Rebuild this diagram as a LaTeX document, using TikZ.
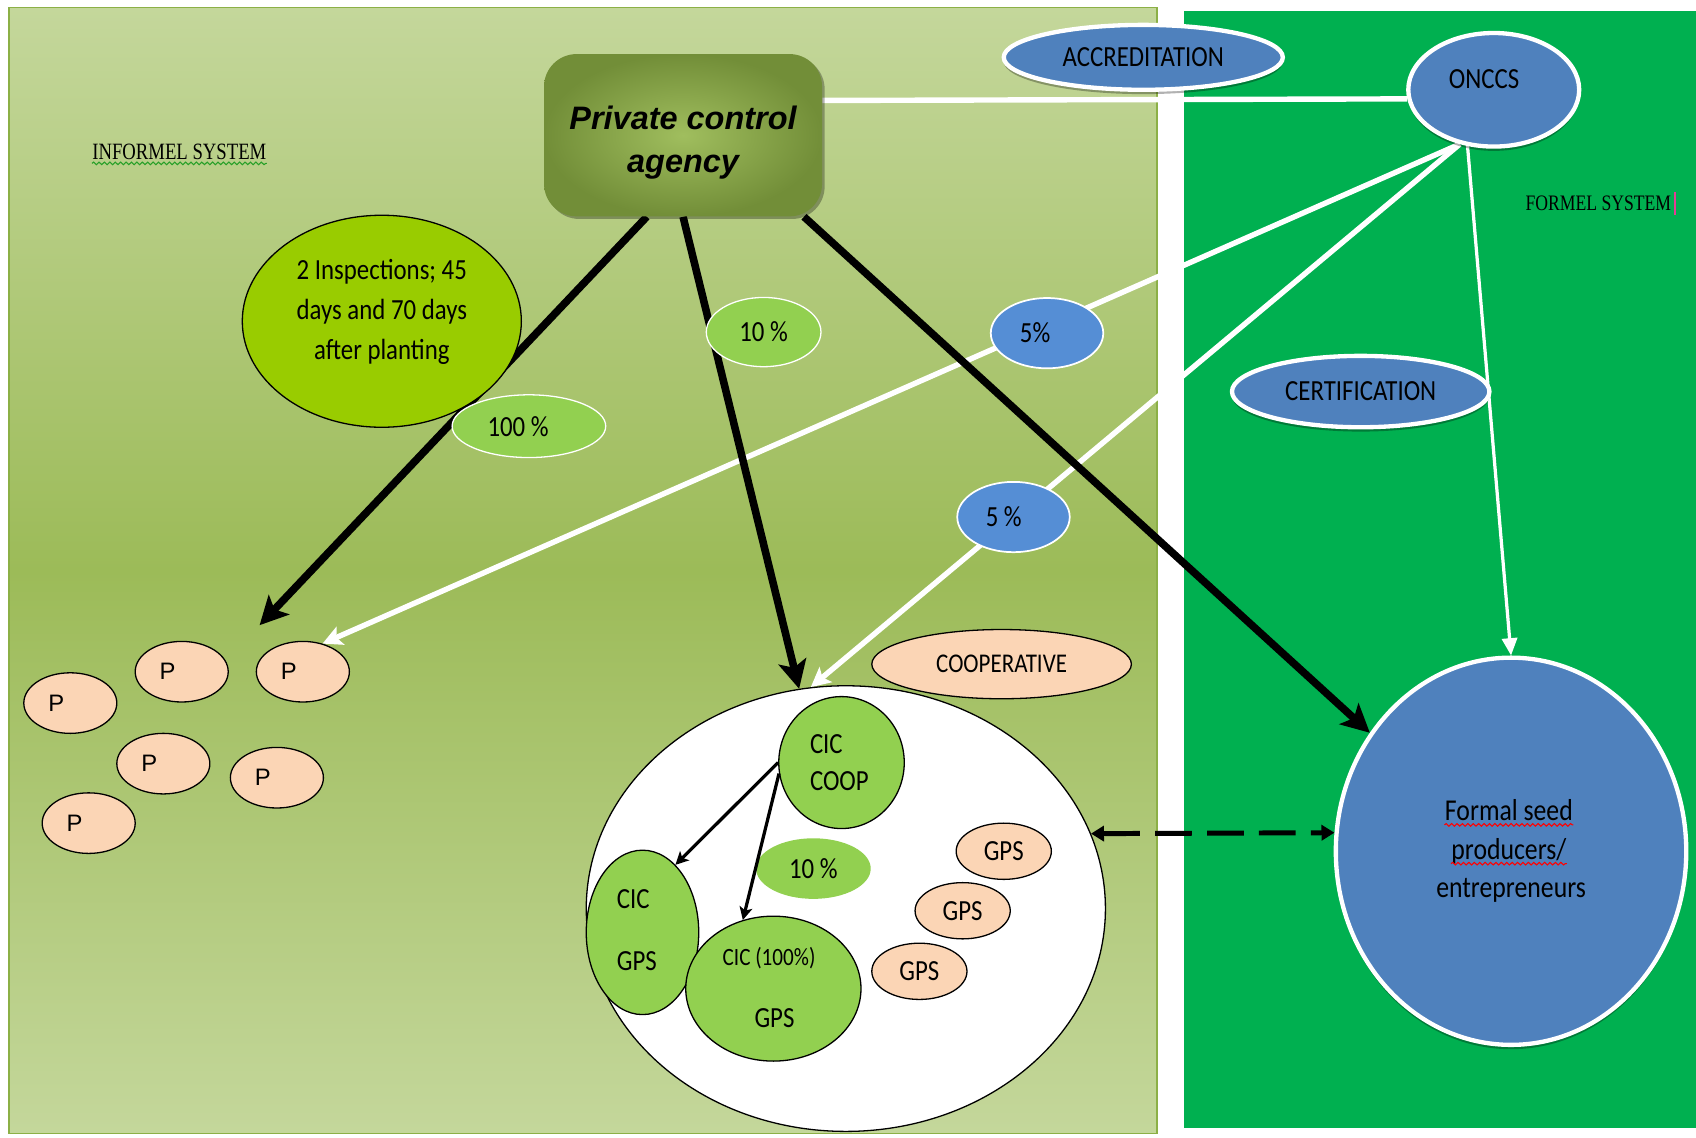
\documentclass[tikz,border=0pt]{standalone}
\usepackage{fontspec}
\setmainfont[FakeStretch=0.85]{Carlito}
\newfontfamily\agencyfont{Liberation Sans}
\newfontfamily\sysfont[FakeStretch=0.8]{Liberation Serif}
\newfontfamily\pfont{Liberation Sans}
\usetikzlibrary{shapes.geometric,arrows.meta,shadows,calc,decorations.pathmorphing}
\pgfdeclarelayer{bg}
\pgfdeclarelayer{lines}
\pgfsetlayers{bg,lines,main}
\definecolor{panelA}{RGB}{196,215,155}
\definecolor{panelB}{RGB}{156,187,88}
\definecolor{panelEdge}{RGB}{140,176,70}
\definecolor{formalgreen}{RGB}{0,176,80}
\definecolor{blueA}{RGB}{79,129,189}
\definecolor{blueB}{RGB}{85,142,213}
\definecolor{limeA}{RGB}{153,204,0}
\definecolor{limeB}{RGB}{146,208,80}
\definecolor{peach}{RGB}{251,213,181}
\definecolor{oliveA}{RGB}{114,142,56}
\definecolor{oliveB}{RGB}{160,190,94}
\definecolor{wavegreen}{RGB}{40,160,40}
\definecolor{cursorpink}{RGB}{230,60,150}
\begin{document}
\begin{tikzpicture}[x=0.5pt,y=-0.5pt,
  base/.style={font=\fontsize{13.5}{18.5}\selectfont, inner sep=0pt, text=black},
  blueell/.style={base, ellipse, fill=blueA, draw=white, line width=2pt,
    drop shadow={shadow xshift=0pt, shadow yshift=-2pt, opacity=0.3, fill=black}},
  pct/.style={base, ellipse, fill=blueB, draw=white, line width=0.8pt, minimum width=52pt, minimum height=32.5pt},
  limeell/.style={base, ellipse, fill=limeB, draw=white, line width=0.6pt},
  peachell/.style={base, ellipse, fill=peach, draw=black, line width=0.6pt},
  pnode/.style={peachell, font=\pfont\fontsize{11}{13}\selectfont, minimum width=43pt, minimum height=28pt},
  gpsnode/.style={peachell, minimum width=44pt, minimum height=26pt},
  cicell/.style={base, ellipse, fill=limeB, draw=black, line width=0.6pt},
  agencybox/.style={rectangle, rounded corners=15pt, minimum width=128.5pt, minimum height=75pt,
    inner color=oliveB, outer color=oliveA,
    drop shadow={shadow xshift=1.2pt, shadow yshift=-1.2pt, opacity=0.3, fill=black}},
  agencytext/.style={inner sep=0pt, align=center, text=black,
    font=\agencyfont\bfseries\itshape\fontsize{15}{20}\selectfont},
  systext/.style={inner sep=0pt, text=black, anchor=west},
  wline/.style={draw=white, line width=2.5pt},
  warrow/.style={wline, -{Stealth[length=9pt,width=9pt,inset=2pt]}},
  bline/.style={draw=black, line width=3.5pt, -{Stealth[length=13pt,width=13pt,inset=3pt]}},
  iarrow/.style={draw=black, line width=1.5pt, -{Stealth[length=6pt,width=6pt,inset=1.5pt]}},
  wave/.style={decorate, decoration={snake, amplitude=0.6pt, segment length=2.5pt}, line width=0.5pt},
]
\useasboundingbox (0,0) rectangle (1568,1051.2);

% panels
\begin{pgfonlayer}{bg}
\shade[top color=panelA, bottom color=panelA, middle color=panelB] (8,7) rectangle (1070,1048);
\draw[panelEdge, line width=0.8pt] (8,7) rectangle (1070,1048);
\fill[formalgreen] (1095,10) rectangle (1568,1043);
\end{pgfonlayer}

% system labels
\node[systext, font=\sysfont\fontsize{10.8}{12}\selectfont] (infsys) at (85,140) {INFORMEL SYSTEM};
\draw[wave, wavegreen] ($(infsys.base west)+(0,4)$) -- ($(infsys.base east)+(0,4)$);
\node[systext, font=\sysfont\fontsize{10.2}{12}\selectfont] (fsys) at (1410,188) {FORMEL SYSTEM};
\draw[cursorpink, line width=1.2pt] ($(fsys.base east)+(3,4)$) -- ($(fsys.base east)+(3,-17)$);

% agency
\node[agencybox] (agency) at (631.5,125) {};
\node[agencytext] (agencytxt) at (631.5,132) {Private control\\agency};

% formal side
\node[blueell, minimum width=129pt, minimum height=30pt] (accr) at (1057,53) {ACCREDITATION};
\node[blueell, minimum width=79pt, minimum height=52.5pt] (onccs) at (1381,83) {};
\node[base] (onccstxt) at (1372,73) {ONCCS};
\node[blueell, minimum width=119pt, minimum height=33pt] (cert) at (1258,362) {CERTIFICATION};
\node[blueell, minimum width=162pt, minimum height=179pt] (formal) at (1397,787) {};
\node[base, font=\fontsize{14}{18.5}\selectfont] (fs1) at (1395,749) {Formal seed};
\node[base, font=\fontsize{14}{18.5}\selectfont] (fs2) at (1395,787) {producers/};
\node[base, font=\fontsize{14}{18.5}\selectfont] (fs3) at (1397,823) {entrepreneurs};
\draw[wave, red] ($(fs1.base west)+(0,4)$) -- ($(fs1.base east)+(0,4)$);
\draw[wave, red] ($(fs2.base west)+(0,4)$) -- ($(fs2.base east)+(0,4)$);

% inspections and percentages
\node[base, ellipse, fill=limeA, draw=black, line width=0.6pt, minimum width=129pt, minimum height=98pt] (insp) at (353,297) {};
\node[base, align=center] (insptxt) at (353,288) {2 Inspections; 45\\days and 70 days\\after planting};
\node[limeell, minimum width=71pt, minimum height=29pt] (p100) at (489,394) {100 \%\kern10pt};
\node[limeell, minimum width=53pt, minimum height=32pt] (p10a) at (706,307) {10 \%};
\node[pct] (p5a) at (968,308) {5\%\kern11pt};
\node[pct] (p5b) at (937,478) {5 \%\kern9pt};
\node[peachell, minimum width=120pt, minimum height=32pt, font=\fontsize{12.5}{15}\selectfont] (coopl) at (926,614) {COOPERATIVE};

% informal producers
\node[pnode] (p1) at (65,650) {P\kern13pt};
\node[pnode] (p2) at (168,621) {P\kern13pt};
\node[pnode] (p3) at (280,621) {P\kern13pt};
\node[pnode] (p4) at (151,706) {P\kern13pt};
\node[pnode] (p5) at (256,719) {P\kern13pt};
\node[pnode] (p6) at (82,761) {P\kern13pt};
\coordinate (pgrp) at (240,578);

% cooperative circle
\node[ellipse, fill=white, draw=black, line width=0.6pt, minimum width=240pt, minimum height=206pt] (coop) at (782,840) {};
\node[cicell, minimum width=58pt, minimum height=61pt] (ciccoop) at (778,705) {};
\node[base, align=left, font=\fontsize{13.5}{17}\selectfont] (ciccooptxt) at (776,705) {CIC\\COOP};
\node[cicell, minimum width=52pt, minimum height=76pt] (cicgps) at (594,862) {};
\node[base, anchor=west] (cicgpsa) at (570,831) {CIC};
\node[base, anchor=west] (cicgpsb) at (570,889) {GPS};
\node[cicell, minimum width=81pt, minimum height=67pt] (cic100) at (715,914) {};
\node[base, font=\fontsize{11.5}{14}\selectfont] (cic100a) at (711,886) {CIC (100\%)};
\node[base] (cic100b) at (716,941) {GPS};
\node[base, ellipse, fill=limeB, minimum width=53pt, minimum height=28pt] (p10b) at (752,803) {10 \%};
\node[gpsnode] (gps1) at (928,787) {GPS};
\node[gpsnode] (gps2) at (890,842) {GPS};
\node[gpsnode] (gps3) at (850,898) {GPS};

% inner arrows
\draw[iarrow] (ciccoop.180) -- (cicgps.64);
\draw[iarrow] (ciccoop.190) -- (cic100.114);

% dashed double arrow
\draw[black, line width=2.3pt, dash pattern=on 17pt off 7pt,
  {Triangle[length=6pt,width=7pt]}-{Triangle[length=6pt,width=7pt]}] (coop.17) -- (formal.174);

% connectors under nodes
\begin{pgfonlayer}{lines}
\draw[wline] (agency.14) -- (onccs.186);
\draw[warrow] (onccs.238) -- (p3.55);
\draw[warrow] (onccs.238) -- (coop.99);
\draw[draw=white, line width=1.5pt, -{Triangle[length=8pt,width=7pt]}] (onccs.245) -- (formal.north);
\draw[bline] (agency.246) -- (pgrp);
\draw[bline] (agency.south) -- (coop.102);
\draw[bline] (agency.326) -- (formal.140);
\end{pgfonlayer}
\end{tikzpicture}
\end{document}
